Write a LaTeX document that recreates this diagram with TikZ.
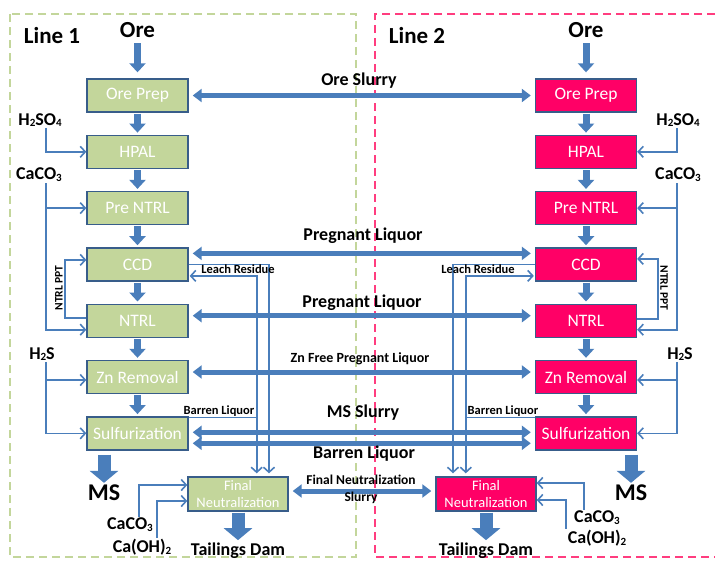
\documentclass[tikz,border=0pt]{standalone}
\usepackage{fontspec}
\setmainfont{Carlito}
\usetikzlibrary{arrows.meta,positioning}
\definecolor{stagegreen}{HTML}{C3D69B}
\definecolor{stagepink}{HTML}{FF0066}
\definecolor{rimblue}{HTML}{385D8A}
\definecolor{pipeblue}{HTML}{4A7EBB}
\definecolor{framepink}{HTML}{FF3D7F}
\newcommand{\chsub}[1]{\raisebox{-0.2ex}{\fontsize{11}{11}\selectfont #1}}
\tikzset{plantunit/.style={
    rectangle,minimum width=101pt,minimum height=33pt,inner sep=0pt,
    draw=rimblue,line width=1.4pt,
    text=white,font=\fontsize{17.5}{17.5}\selectfont}}
\tikzset{greenunit/.style={plantunit,fill=stagegreen}}
\tikzset{pinkunit/.style={plantunit,fill=stagepink}}
\tikzset{finalunit/.style={minimum width=100pt,minimum height=34pt,align=center,
    font=\fontsize{14.5}{17}\selectfont}}
\tikzset{flow/.style={draw=pipeblue,line width=7pt,-{Triangle[length=9pt,width=16pt]},
    shorten <=1pt,shorten >=2pt}}
\tikzset{bigflow/.style={draw=pipeblue,line width=13pt,-{Triangle[length=12pt,width=28pt]}}}
\tikzset{transfer/.style={draw=pipeblue,line width=5pt,
    {Triangle[length=9pt,width=13pt]}-{Triangle[length=9pt,width=13pt]},
    shorten <=4pt,shorten >=4pt}}
\tikzset{feed/.style={draw=pipeblue,line width=1.6pt,-{Straight Barb[length=5pt,width=11pt]}}}
\tikzset{pipe/.style={draw=pipeblue,line width=1.6pt}}
\tikzset{bigtext/.style={font=\bfseries\fontsize{23}{23}\selectfont,inner sep=1pt}}
\tikzset{midtext/.style={font=\bfseries\fontsize{18}{18}\selectfont,inner sep=1pt}}
\tikzset{smalltext/.style={font=\bfseries\fontsize{12.5}{12.5}\selectfont,inner sep=1pt}}
\tikzset{frame/.style={line width=1.5pt,dash pattern=on 8pt off 5pt}}

\begin{document}
\begin{tikzpicture}[x=1pt,y=-1pt,node distance=21.9pt]
\useasboundingbox (0,0) rectangle (715,560);

% dashed frames of the two lines
\draw[frame,stagegreen] (10,14) rectangle (356,557);
\draw[frame,framepink] (715,14) -- (375,14) -- (375,557) -- (715,557);

% line 1
\node (lineA)    [bigtext] at (52,36) {Line 1};
\node (oreA)     [bigtext,anchor=south] at (137.5,39) {Ore};
\node (prepA)    [greenunit] at (137.5,95.5) {Ore Prep};
\node (hpalA)    [greenunit,below=of prepA] {HPAL};
\node (prentrlA) [greenunit,below=of hpalA] {Pre NTRL};
\node (ccdA)     [greenunit,below=of prentrlA] {CCD};
\node (ntrlA)    [greenunit,below=of ccdA] {NTRL};
\node (znA)      [greenunit,below=of ntrlA] {Zn Removal};
\node (sulfA)    [greenunit,below=of znA] {Sulfurization};
\node (finalA)   [greenunit,finalunit] at (238,494) {Final\\Neutralization};

% line 2
\node (lineB)    [bigtext] at (417,36) {Line 2};
\node (oreB)     [bigtext,anchor=south] at (586,39) {Ore};
\node (prepB)    [pinkunit] at (586,95.5) {Ore Prep};
\node (hpalB)    [pinkunit,below=of prepB] {HPAL};
\node (prentrlB) [pinkunit,below=of hpalB] {Pre NTRL};
\node (ccdB)     [pinkunit,below=of prentrlB] {CCD};
\node (ntrlB)    [pinkunit,below=of ccdB] {NTRL};
\node (znB)      [pinkunit,below=of ntrlB] {Zn Removal};
\node (sulfB)    [pinkunit,below=of znB] {Sulfurization};
\node (finalB)   [pinkunit,finalunit] at (486,494) {Final\\Neutralization};

% main process flow
\draw[flow,shorten <=4pt,shorten >=6pt] (oreA) -- (prepA);
\draw[flow,shorten <=4pt,shorten >=6pt] (oreB) -- (prepB);
\foreach \up/\down in {prep/hpal,hpal/prentrl,prentrl/ccd,ccd/ntrl,ntrl/zn,zn/sulf}
  {\draw[flow] (\up A) -- (\down A);
   \draw[flow] (\up B) -- (\down B);}

% transfers between the lines
\draw[transfer] (prepA) -- (prepB);
\draw[transfer] ([yshift=11pt]ccdA.east) -- ([yshift=11pt]ccdB.west);
\draw[transfer] ([yshift=5pt]ntrlA.east) -- ([yshift=5pt]ntrlB.west);
\draw[transfer] ([yshift=5pt]znA.east) -- ([yshift=5pt]znB.west);
\draw[transfer] ([yshift=1pt]sulfA.east) -- ([yshift=1pt]sulfB.west);
\draw[transfer] ([yshift=-10pt]sulfA.east) -- ([yshift=-10pt]sulfB.west);
\draw[transfer] ([yshift=3pt]finalA.east) -- ([yshift=3pt]finalB.west);

\node (slurryText)  [midtext] at (359,81) {Ore Slurry};
\node (pregText)    [midtext] at (363,236) {Pregnant Liquor};
\node (pregTextB)   [midtext] at (362,303) {Pregnant Liquor};
\node (znfreeText)  [font=\bfseries\fontsize{14}{14}\selectfont,inner sep=1pt] at (360,359) {Zn Free Pregnant Liquor};
\node (msslurryText)[midtext] at (363,413) {MS Slurry};
\node (barrenText)  [midtext] at (364,454) {Barren Liquor};
\node (fnslurryText)[align=center,font=\bfseries\fontsize{13.5}{17}\selectfont,inner sep=1pt] at (361,489) {Final Neutralization\\Slurry};

% leach residue and barren liquor to final neutralization
\draw[feed,shorten >=3pt] (ccdA.east) -| ([xshift=31pt]finalA.north);
\path ([yshift=-1.5pt]sulfA.north east) ++(68pt,0) coordinate (dropA);
\draw[pipe] ([yshift=-1.5pt]sulfA.north east) -- (dropA);
\draw[feed,shorten >=1pt] (dropA) |- ([yshift=-11.5pt]ccdA.east);
\draw[feed,shorten >=3pt] (dropA) -- (dropA |- finalA.north);

\draw[feed,shorten >=3pt] (ccdB.west) -| ([xshift=-33pt]finalB.north);
\path ([yshift=-1.5pt]sulfB.north west) ++(-69pt,0) coordinate (dropB);
\draw[pipe] ([yshift=-1.5pt]sulfB.north west) -- (dropB);
\draw[feed,shorten >=1pt] (dropB) |- ([yshift=-11.5pt]ccdB.west);
\draw[feed,shorten >=3pt] (dropB) -- (dropB |- finalB.north);

\node (leachA)  [smalltext] at (238,269) {Leach Residue};
\node (leachB)  [smalltext] at (478,269) {Leach Residue};
\node (barrenA) [smalltext] at (219,411) {Barren Liquor};
\node (barrenB) [smalltext] at (503,411) {Barren Liquor};

% reagents line 1
\coordinate (trunkA) at (46,0);
\coordinate (pptA) at (65,0);
\node (acidA) [midtext] at (40,120) {H\chsub{2}SO\chsub{4}};
\node (caA)   [midtext] at (39,175) {CaCO\chsub{3}};
\node (hsA)   [midtext] at (42,354) {H\chsub{2}S};
\draw[feed] (acidA.south -| trunkA) |- (hpalA.west);
\draw[feed] (caA.south -| trunkA) |- ([yshift=-9pt]ntrlA.west);
\draw[feed] (trunkA |- prentrlA.west) -- (prentrlA.west);
\coordinate (pptinA) at ([yshift=4.5pt]ccdA.west);
\draw[feed] ([yshift=2.5pt]ntrlA.west) -| (pptA |- pptinA) -- (pptinA);
\node (pptTextA) [smalltext,font=\bfseries\fontsize{11.5}{11.5}\selectfont,rotate=90] at (59,288) {NTRL PPT};
\coordinate (zninA) at ([yshift=-3pt]znA.west);
\draw[feed] (hsA.south -| trunkA) |- (sulfA.west);
\draw[feed] (trunkA |- zninA) -- (zninA);

% reagents line 2
\coordinate (trunkB) at (677,0);
\coordinate (pptB) at (658,0);
\node (acidB) [midtext] at (678,120) {H\chsub{2}SO\chsub{4}};
\node (caB)   [midtext] at (678,175) {CaCO\chsub{3}};
\node (hsB)   [midtext] at (680,354) {H\chsub{2}S};
\draw[feed] (acidB.south -| trunkB) |- (hpalB.east);
\draw[feed] (caB.south -| trunkB) |- ([yshift=-9pt]ntrlB.east);
\draw[feed] (trunkB |- prentrlB.east) -- (prentrlB.east);
\coordinate (pptinB) at ([yshift=5.5pt]ccdB.east);
\draw[feed] ([yshift=2pt]ntrlB.east) -| (pptB |- pptinB) -- (pptinB);
\node (pptTextB) [smalltext,font=\bfseries\fontsize{11.5}{11.5}\selectfont,rotate=-90] at (664,288) {NTRL PPT};
\coordinate (zninB) at ([yshift=-3pt]znB.east);
\draw[feed] (hsB.south -| trunkB) |- (sulfB.east);
\draw[feed] (trunkB |- zninB) -- (zninB);

% products
\node (msA) [bigtext,font=\bfseries\fontsize{24}{24}\selectfont] at (104,493) {MS};
\node (msB) [bigtext,font=\bfseries\fontsize{24}{24}\selectfont] at (631,493) {MS};
\draw[bigflow,shorten <=4pt,shorten >=1pt] (msA.north |- sulfA.south) -- (msA);
\draw[bigflow,shorten <=4pt,shorten >=1pt] (msB.north |- sulfB.south) -- (msB);

% final neutralization reagents and tailings
\node (limeA)   [midtext] at (130,525) {CaCO\chsub{3}};
\node (slakedA) [midtext] at (142,547) {Ca(OH)\chsub{2}};
\draw[feed] ([xshift=9pt]limeA.north) |- ([yshift=9pt]finalA.west);
\draw[feed] ([xshift=15pt]slakedA.north) |- ([yshift=-7pt]finalA.west);
\node (limeB)   [midtext] at (597,518) {CaCO\chsub{3}};
\node (slakedB) [midtext] at (597,538) {Ca(OH)\chsub{2}};
\draw[feed] ([xshift=-13pt]limeB.north) |- ([yshift=11pt]finalB.east);
\draw[feed] ([xshift=-31pt]slakedB.north) |- ([yshift=-6pt]finalB.east);

\node (tailA) [midtext,anchor=base] at (238,555) {Tailings Dam};
\node (tailB) [midtext,anchor=base] at (486,555) {Tailings Dam};
\draw[bigflow,shorten <=1pt,shorten >=1pt] (finalA) -- (tailA);
\draw[bigflow,shorten <=1pt,shorten >=1pt] (finalB) -- (tailB);

\end{tikzpicture}
\end{document}
